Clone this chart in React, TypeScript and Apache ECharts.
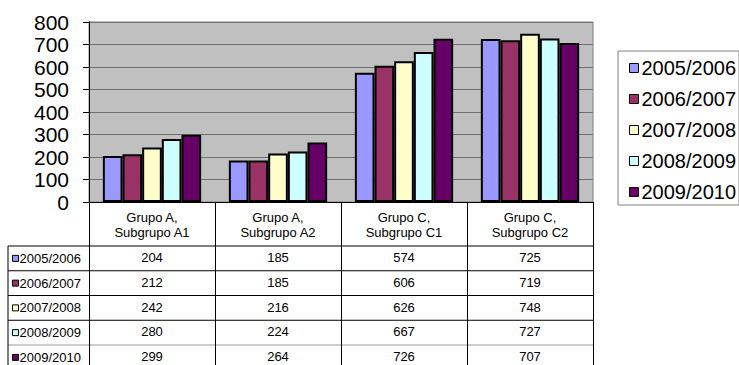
import React, { useEffect, useRef } from "react";
import * as echarts from "echarts";

const categories = [
  "Grupo A,\nSubgrupo A1",
  "Grupo A,\nSubgrupo A2",
  "Grupo C,\nSubgrupo C1",
  "Grupo C,\nSubgrupo C2",
];
const seriesNames = ["2005/2006", "2006/2007", "2007/2008", "2008/2009", "2009/2010"];
const v2005 = [204, 185, 574, 725];
const v2006 = [212, 185, 606, 719];
const v2007 = [242, 216, 626, 748];
const v2008 = [280, 224, 667, 727];
const v2009 = [299, 264, 726, 707];
const seriesValues = [v2005, v2006, v2007, v2008, v2009];
const colors = ["#9999FF", "#993366", "#FFFFCC", "#CCFFFF", "#660066"];
const yMin = 0;
const yMax = 800;
const yStep = 100;

const FONT = '"Liberation Sans", Arial, sans-serif';
const GRID = { left: 89, top: 22, width: 504, height: 180 };
const HEADER_H = 44;
const ROW_H = 24.75;
const TABLE_LEFT = 8;

export default function App() {
  const ref = useRef<HTMLDivElement>(null);
  useEffect(() => {
    if (!ref.current) return;
    const chart = echarts.init(ref.current, null, { renderer: "svg" });
    const gridBottom = GRID.top + GRID.height;
    const gridRight = GRID.left + GRID.width;
    const rowTops = seriesNames.map((_, r) => gridBottom + HEADER_H + r * ROW_H);

    const graphic: any[] = [];
    rowTops.forEach((y, r) => {
      graphic.push({
        type: "line",
        shape: { x1: TABLE_LEFT, y1: y, x2: gridRight, y2: y },
        style: { stroke: r === 4 ? "#9a9a9a" : "#000", lineWidth: 1 },
        silent: true,
      });
      const cy = y + ROW_H / 2;
      graphic.push({
        type: "rect",
        shape: { x: 12.5, y: cy - 3, width: 6, height: 6 },
        style: { fill: colors[r], stroke: "#000", lineWidth: 1 },
        silent: true,
      });
      graphic.push({
        type: "text",
        x: 19.5,
        y: cy,
        style: {
          text: seriesNames[r],
          fontSize: 13,
          fontFamily: FONT,
          fill: "#000",
          verticalAlign: "middle",
          align: "left",
        },
        silent: true,
      });
    });
    graphic.push({
      type: "line",
      shape: { x1: TABLE_LEFT, y1: rowTops[0], x2: TABLE_LEFT, y2: 380 },
      style: { stroke: "#000", lineWidth: 1 },
      silent: true,
    });

    const valueAxes = seriesValues.map((vals, r) => ({
      type: "category",
      gridIndex: 0,
      position: "bottom",
      offset: HEADER_H + r * ROW_H,
      data: vals.map((v) => String(v)),
      axisLine: { show: false },
      axisTick: { show: false },
      splitLine: { show: false },
      axisLabel: {
        interval: 0,
        margin: 5,
        fontSize: 13,
        fontFamily: FONT,
        color: "#000",
      },
    }));

    chart.setOption({
      animation: false,
      backgroundColor: "#fff",
      grid: {
        left: GRID.left,
        top: GRID.top,
        width: GRID.width,
        height: GRID.height,
        show: true,
        backgroundColor: "#C0C0C0",
        borderColor: "#808080",
        borderWidth: 1,
      },
      legend: {
        orient: "vertical",
        left: 618,
        top: 51,
        padding: [7, 3, 3, 11],
        itemWidth: 9,
        itemHeight: 9,
        itemGap: 11,
        icon: "rect",
        borderColor: "#808080",
        borderWidth: 1,
        data: seriesNames,
        itemStyle: { borderColor: "#000", borderWidth: 1 },
        textStyle: { fontSize: 20, fontFamily: FONT, color: "#000", padding: [0, 0, 0, -2] },
      },
      xAxis: [
        {
          type: "category",
          gridIndex: 0,
          data: categories,
          axisLine: { show: true, lineStyle: { color: "#000", width: 1 } },
          axisTick: { show: true, length: 175, interval: 0, lineStyle: { color: "#000", width: 1 } },
          axisLabel: {
            interval: 0,
            margin: 8,
            fontSize: 13,
            lineHeight: 15,
            fontFamily: FONT,
            color: "#000",
          },
        },
        ...valueAxes,
      ],
      yAxis: {
        type: "value",
        min: yMin,
        max: yMax,
        interval: yStep,
        axisLine: { show: true, lineStyle: { color: "#000", width: 1 } },
        axisTick: { show: true, length: 6, lineStyle: { color: "#000" } },
        splitLine: { show: true, lineStyle: { color: "#6f6f6f", width: 1 } },
        axisLabel: { fontSize: 21, fontFamily: FONT, color: "#000", margin: 20 },
      },
      series: seriesNames.map((name, i) => ({
        name,
        type: "bar",
        xAxisIndex: 0,
        data: seriesValues[i],
        barGap: "0%",
        barCategoryGap: "22%",
        itemStyle: { color: colors[i], borderColor: "#000", borderWidth: 2 },
      })),
      graphic,
    });
    return () => chart.dispose();
  }, []);
  return (
    <div
      ref={ref}
      style={{ position: "absolute", left: 0, top: 0, width: 739, height: 365 }}
    />
  );
}
